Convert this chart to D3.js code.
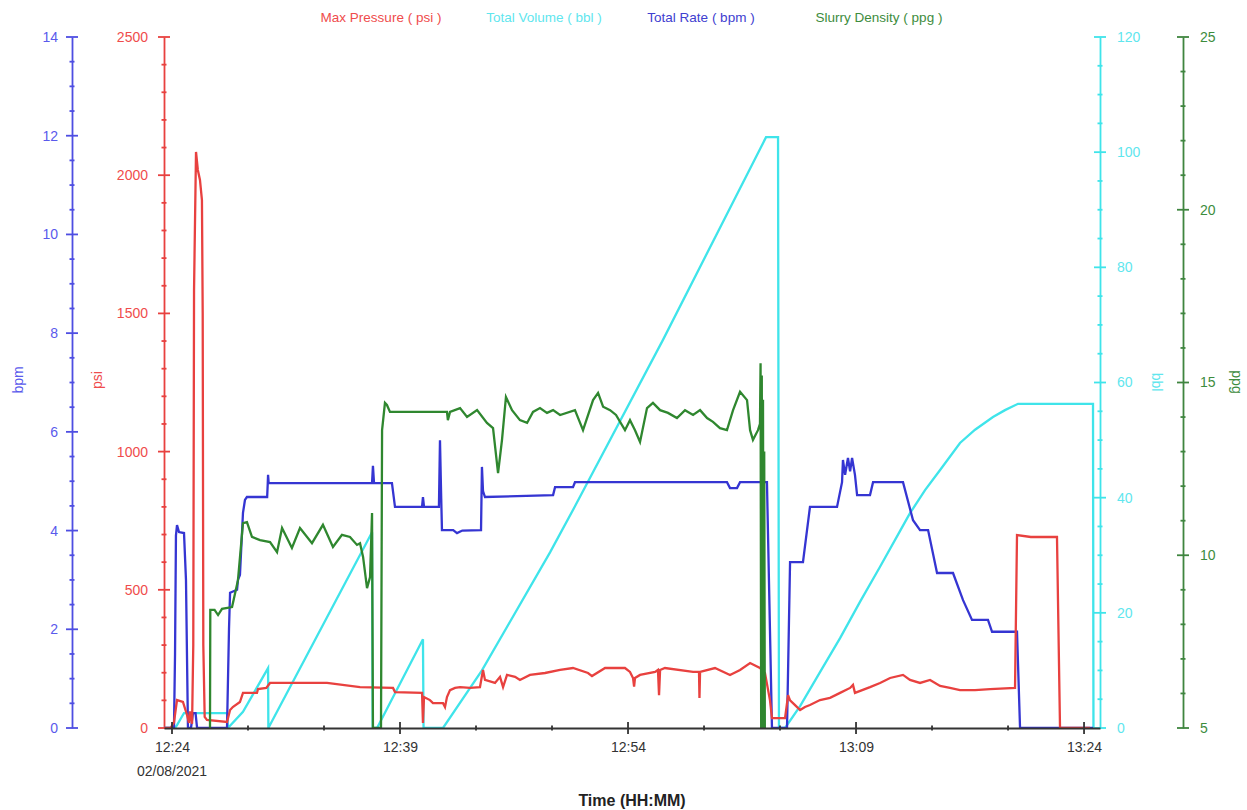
<!DOCTYPE html>
<html><head><meta charset="utf-8">
<script src="https://cdn.jsdelivr.net/npm/d3@7"></script>
<style>body{margin:0;background:#fff;} svg{display:block;font-family:"Liberation Sans",Arial,sans-serif;}</style>
</head><body><svg id="c" width="1247" height="810"></svg>
<script>
// ---- data (time in minutes after 12:24, 02/08/2021) ----
const startTime = new Date(2021, 1, 8, 12, 24, 0);
const legendLabels = ["Max Pressure ( psi )", "Total Volume ( bbl )", "Total Rate ( bpm )", "Slurry Density ( ppg )"];
const axisTitles = ["bpm", "psi", "bbl", "ppg"];
const timeTickMinutes = [0,5,10,15,20,25,30,35,40,45,50,55,60];
const timeLabelMinutes = [0,15,30,45,60];
const dateLabel = "02/08/2021";
const bpmMajor = [0,2,4,6,8,10,12,14];
const bpmMinor = [0.5,1,1.5,2.5,3,3.5,4.5,5,5.5,6.5,7,7.5,8.5,9,9.5,10.5,11,11.5,12.5,13,13.5];
const psiMajor = [0,500,1000,1500,2000,2500];
const psiMinor = [100,200,300,400,600,700,800,900,1100,1200,1300,1400,1600,1700,1800,1900,2100,2200,2300,2400];
const bblMajor = [0,20,40,60,80,100,120];
const bblMinor = [5,10,15,25,30,35,45,50,55,65,70,75,85,90,95,105,110,115];
const ppgMajor = [5,10,15,20,25];
const ppgMinor = [6,7,8,9,11,12,13,14,16,17,18,19,21,22,23,24];

const rateData = [[-0.53,0],[0.13,0],[0.20,1.5],[0.26,3.9],[0.33,4.11],[0.46,3.97],[0.79,3.95],[0.92,3.0],[1.05,0],[1.25,0],[1.38,0.3],[1.55,0.3],[1.65,0],[3.62,0],[3.75,2.0],[3.82,2.74],[4.28,2.80],[4.34,3.0],[4.47,3.1],[4.67,4.36],[4.80,4.62],[4.93,4.68],[6.26,4.68],[6.30,4.96],[6.32,5.13],[6.36,4.96],[13.16,4.96],[13.22,5.31],[13.29,4.96],[14.47,4.96],[14.67,4.48],[16.45,4.48],[16.51,4.68],[16.58,4.48],[17.56,4.48],[17.63,5.83],[17.70,4.8],[17.76,4.01],[18.5,4.01],[18.75,3.95],[19.1,4.0],[20.33,4.01],[20.39,5.29],[20.46,4.8],[20.59,4.68],[25.07,4.72],[25.20,4.88],[26.38,4.88],[26.51,4.98],[36.51,4.98],[36.71,4.86],[37.17,4.86],[37.37,4.98],[39.14,4.98],[39.47,0],[40.46,0],[40.66,3.36],[41.51,3.36],[41.97,4.48],[43.75,4.48],[44.08,4.98],[44.14,5.43],[44.28,5.13],[44.47,5.47],[44.61,5.2],[44.74,5.47],[44.93,5.13],[45.07,4.72],[45.92,4.72],[46.12,4.98],[48.09,4.98],[48.75,4.21],[49.21,4.01],[49.74,4.01],[50.33,3.14],[51.38,3.14],[52.04,2.59],[52.63,2.19],[53.68,2.19],[53.95,1.95],[55.59,1.95],[55.79,0],[60.59,0]];

const pressureData = [[-0.53,0],[-0.1,0],[0.13,20],[0.33,101],[0.72,94],[0.99,47],[1.12,18],[1.18,60],[1.25,40],[1.32,15],[1.40,300],[1.45,1585],[1.58,2084],[1.70,2019],[1.84,1983],[1.97,1910],[2.02,1500],[2.06,300],[2.15,40],[2.30,29],[3.62,22],[3.82,65],[4.0,76],[4.47,94],[4.67,127],[5.59,127],[5.66,141],[6.2,145],[6.45,163],[10.20,163],[12.37,148],[14.54,145],[14.67,130],[16.45,127],[16.51,18],[16.58,112],[16.97,101],[17.17,90],[17.83,90],[17.96,76],[18.09,112],[18.29,137],[18.62,145],[18.95,148],[19.61,145],[20.26,148],[20.46,210],[20.59,174],[21.25,163],[21.58,185],[21.78,148],[22.04,192],[22.57,185],[22.89,174],[23.55,192],[24.54,199],[25.53,210],[26.38,217],[27.37,199],[27.63,188],[28.49,217],[29.80,217],[30.13,203],[30.33,181],[30.40,150],[30.46,181],[30.79,192],[31.78,203],[31.97,210],[32.04,119],[32.11,210],[32.43,217],[34.28,203],[34.67,203],[34.70,109],[34.74,203],[35.72,217],[36.71,192],[37.37,210],[38.03,235],[38.68,217],[39.01,199],[39.34,100],[39.47,36],[40.33,36],[40.53,119],[40.66,100],[40.99,83],[41.32,65],[41.64,76],[41.97,83],[42.63,101],[43.29,109],[43.95,127],[44.61,145],[44.80,156],[44.93,127],[45.92,148],[46.58,163],[47.24,181],[48.09,192],[48.55,174],[49.21,163],[49.87,174],[50.53,152],[51.18,145],[51.84,137],[52.83,137],[53.82,141],[55.46,145],[55.59,698],[56.5,691],[58.22,691],[58.42,0],[60.39,0]];

const volumeData = [[-0.53,0],[0.20,0],[0.33,0.5],[0.79,2.6],[3.62,2.6],[3.68,0],[4.67,2.8],[6.32,10.4],[6.34,0],[13.16,34.0],[13.20,0],[13.49,0],[16.51,15.4],[16.55,0],[17.83,0],[20.39,10.0],[24.87,30.5],[26.51,38.5],[32.3,67.4],[39.08,102.6],[39.87,102.6],[39.93,0],[40.33,0],[41.32,3.8],[42.63,9.7],[43.95,15.6],[45.26,21.9],[46.58,28.0],[47.89,34.2],[48.55,37.3],[49.54,41.3],[50.53,44.8],[51.84,49.5],[52.83,51.8],[54.01,54.0],[54.80,55.2],[55.66,56.3],[60.59,56.3],[60.62,0]];

const densityData = [[2.50,5],[2.52,8.42],[2.8,8.42],[3.03,8.27],[3.29,8.45],[3.95,8.5],[4.05,8.7],[4.34,9.28],[4.67,10.93],[4.93,10.96],[5.26,10.53],[5.79,10.44],[6.45,10.38],[6.91,10.09],[7.24,10.79],[7.89,10.21],[8.42,10.79],[9.21,10.35],[9.93,10.88],[10.59,10.24],[11.18,10.59],[11.71,10.53],[12.17,10.30],[12.37,10.35],[12.57,9.95],[12.83,9.05],[13.03,9.37],[13.16,11.22],[13.22,5],[13.75,5],[13.82,13.62],[14.01,14.41],[14.14,14.35],[14.34,14.15],[18.09,14.15],[18.15,13.91],[18.29,14.15],[18.95,14.26],[19.41,14.00],[20.07,14.20],[20.72,13.83],[21.12,13.68],[21.45,12.38],[21.71,13.34],[21.97,14.58],[22.37,14.20],[22.89,13.91],[23.36,13.83],[23.75,14.15],[24.21,14.26],[24.67,14.12],[25.07,14.20],[25.53,14.06],[26.51,14.2],[27.04,13.62],[27.70,14.49],[28.03,14.70],[28.36,14.3],[28.82,14.20],[29.21,14.06],[29.80,13.62],[30.13,13.91],[30.46,13.62],[30.79,13.28],[31.25,14.26],[31.64,14.41],[32.11,14.20],[32.63,14.12],[33.22,13.97],[33.75,14.20],[34.28,14.06],[34.74,14.20],[35.20,13.97],[35.59,13.86],[36.05,13.68],[36.51,13.62],[36.91,14.20],[37.37,14.73],[37.83,14.49],[38.03,13.62],[38.22,13.34],[38.55,13.62],[38.68,13.8],[38.72,15.56],[38.76,5.0],[38.80,15.2],[38.84,5.0],[38.88,14.5],[38.92,5],[38.96,13],[39.0,5]];

// ---- drawing ----
const svg = d3.select("#c");
const T = m => new Date(startTime.getTime() + m * 60000);
const yTop = 37, yBottom = 728;
const x = d3.scaleTime().domain([T(-0.526), T(61.05)]).range([164, 1100]);
const yBpm = d3.scaleLinear().domain([0, 14]).range([yBottom, yTop]);
const yPsi = d3.scaleLinear().domain([0, 2500]).range([yBottom, yTop]);
const yBbl = d3.scaleLinear().domain([0, 120]).range([yBottom, yTop]);
const yPpg = d3.scaleLinear().domain([5, 25]).range([yBottom, yTop]);

const C = {
  red: "#e8413f", redLbl: "#ef4c4c",
  cyan: "#3fe4ea", cyanLbl: "#5fe6ee",
  blue: "#3535d2", blueAx: "#4e4ee2", blueLbl: "#5a5aec",
  green: "#2f872f", greenAx: "#3f853f", greenLbl: "#3d8c3d"
};

// legend
const legendX = [381, 544, 701, 879];
const legendCol = [C.redLbl, C.cyanLbl, "#4040d0", "#3d8c3d"];
svg.selectAll(".leg").data(legendLabels).enter().append("text")
  .attr("x", (d, i) => legendX[i]).attr("y", 22).attr("text-anchor", "middle")
  .attr("fill", (d, i) => legendCol[i]).style("font-size", "13.5px").text(d => d);

function yAxis(scale, xPos, side, majors, minors, color, labelColor, pad) {
  const g = svg.append("g").attr("transform", `translate(${xPos},0)`);
  const ax = (side === "left" ? d3.axisLeft(scale) : d3.axisRight(scale))
    .tickValues(majors).tickSize(0).tickPadding(pad).tickFormat(d3.format("d"));
  g.call(ax);
  g.attr("font-family", null).attr("font-size", null);
  g.select(".domain").attr("stroke", color).attr("stroke-width", 1.8);
  g.selectAll("text").attr("fill", labelColor).style("font-size", "14px");
  g.selectAll(".mn").data(minors).enter().append("line")
    .attr("x1", -2.5).attr("x2", 2.5).attr("y1", d => scale(d)).attr("y2", d => scale(d))
    .attr("stroke", color).attr("stroke-width", 1.8);
  g.selectAll(".mj").data(majors).enter().append("line")
    .attr("x1", -6).attr("x2", 6).attr("y1", d => scale(d)).attr("y2", d => scale(d))
    .attr("stroke", color).attr("stroke-width", 1.8);
  return g;
}
yAxis(yBpm, 72, "left", bpmMajor, bpmMinor, C.blueAx, C.blueLbl, 14);
yAxis(yPsi, 164, "left", psiMajor, psiMinor, C.red, C.redLbl, 16);
yAxis(yBbl, 1100, "right", bblMajor, bblMinor, C.cyan, C.cyanLbl, 17);
yAxis(yPpg, 1183, "right", ppgMajor, ppgMinor, C.greenAx, C.greenLbl, 17);

// axis titles
const titlePos = [[18, 380, -90, C.blueLbl], [97, 380, -90, C.redLbl], [1157, 382, 90, C.cyanLbl], [1237, 382, 90, C.greenLbl]];
svg.selectAll(".atitle").data(axisTitles).enter().append("text")
  .attr("transform", (d, i) => `translate(${titlePos[i][0]},${titlePos[i][1]}) rotate(${titlePos[i][2]})`)
  .attr("text-anchor", "middle").attr("dy", "0.35em")
  .attr("fill", (d, i) => titlePos[i][3]).style("font-size", "14px").text(d => d);

// clip
svg.append("defs").append("clipPath").attr("id", "clip").append("rect")
  .attr("x", 164).attr("y", yTop - 2).attr("width", 936).attr("height", yBottom - yTop + 3);
const plot = svg.append("g").attr("clip-path", "url(#clip)");

const mk = ys => d3.line().x(d => x(T(d[0]))).y(d => ys(d[1]));
plot.append("path").datum(volumeData).attr("d", mk(yBbl)).attr("fill", "none").attr("stroke", C.cyan).attr("stroke-width", 2.3);
plot.append("path").datum(rateData).attr("d", mk(yBpm)).attr("fill", "none").attr("stroke", C.blue).attr("stroke-width", 2.3);
plot.append("path").datum(pressureData).attr("d", mk(yPsi)).attr("fill", "none").attr("stroke", C.red).attr("stroke-width", 2.3);
plot.append("path").datum(densityData).attr("d", mk(yPpg)).attr("fill", "none").attr("stroke", C.green).attr("stroke-width", 2.3);

// x axis
const xg = svg.append("g").attr("transform", `translate(0,${yBottom})`);
xg.call(d3.axisBottom(x).tickValues(timeLabelMinutes.map(T)).tickSize(0).tickPadding(14).tickFormat(d3.timeFormat("%H:%M")));
xg.attr("font-family", null).attr("font-size", null);
xg.select(".domain").attr("stroke", "#333").attr("stroke-width", 1.8);
xg.selectAll("text").attr("fill", "#333").style("font-size", "14px");
xg.selectAll(".xt").data(timeTickMinutes).enter().append("line")
  .attr("x1", d => x(T(d))).attr("x2", d => x(T(d)))
  .attr("y1", d => timeLabelMinutes.includes(d) ? -6 : -2.5)
  .attr("y2", d => timeLabelMinutes.includes(d) ? 6 : 2.5)
  .attr("stroke", "#333").attr("stroke-width", 1.8);
svg.append("text").attr("x", x(T(0))).attr("y", 776).attr("text-anchor", "middle")
  .attr("fill", "#333").style("font-size", "14px").text(dateLabel);
svg.append("text").attr("x", 632).attr("y", 806).attr("text-anchor", "middle")
  .attr("fill", "#222").style("font-size", "16px").style("font-weight", "bold").text("Time (HH:MM)");
</script></body></html>
